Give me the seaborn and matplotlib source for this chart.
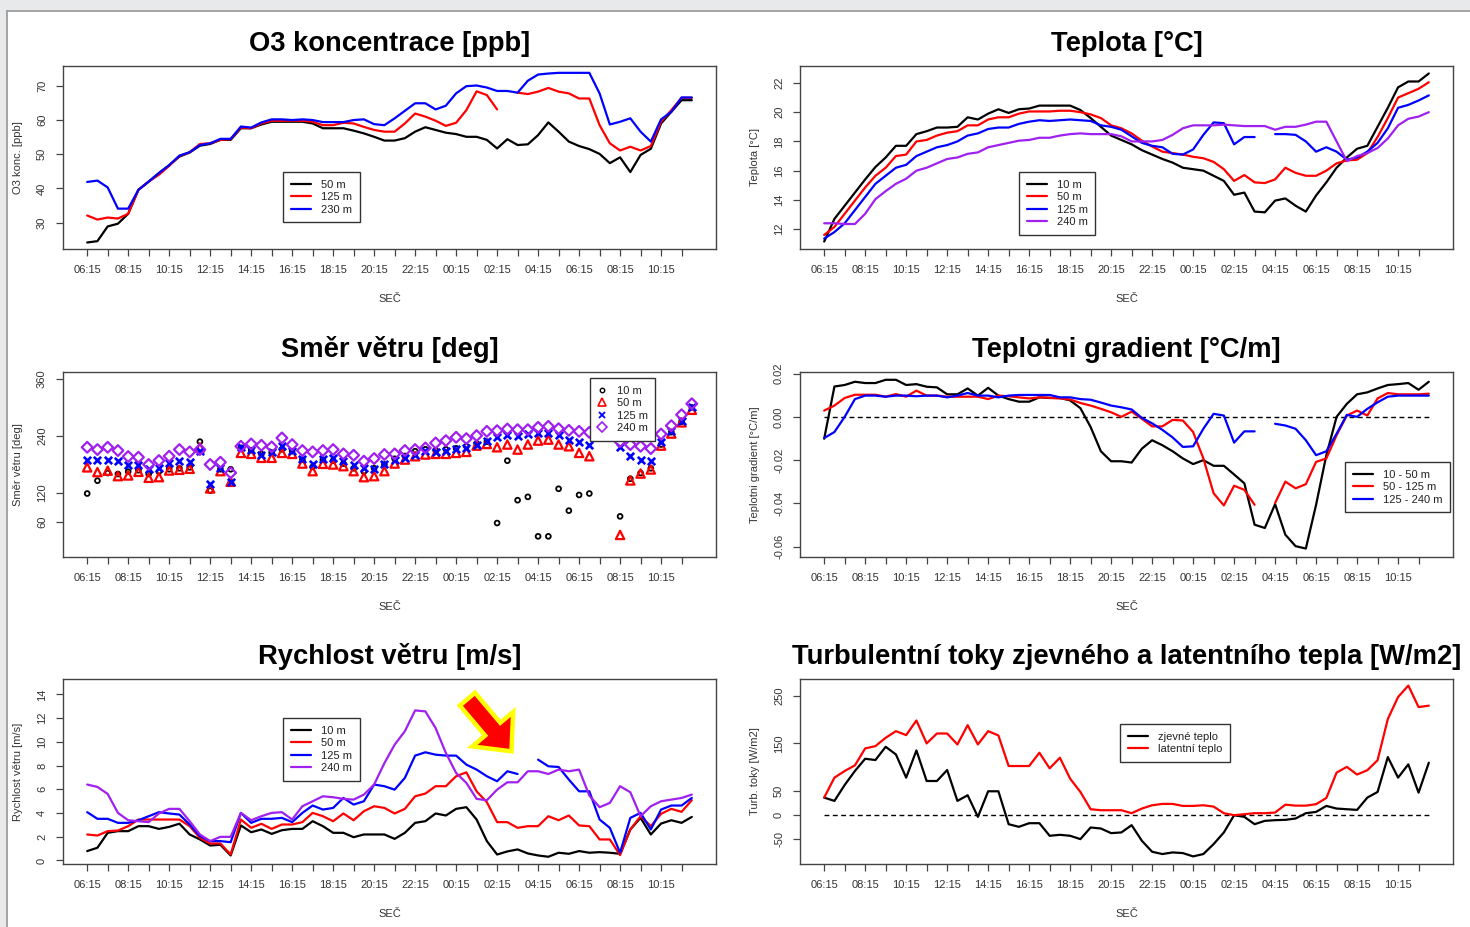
import numpy as np
import pandas as pd
import matplotlib
matplotlib.use("Agg")
import matplotlib.pyplot as plt
import seaborn as sns
from matplotlib.lines import Line2D
from matplotlib.patches import Rectangle

nan = np.nan

# ---------------- data (half-hour steps starting 06:15) ----------------
step = np.arange(60)
tick_labels = ["06:15", "08:15", "10:15", "12:15", "14:15", "16:15", "18:15", "20:15",
               "22:15", "00:15", "02:15", "04:15", "06:15", "08:15", "10:15"]

# O3 concentration [ppb]
o3_50 = [24.2, 24.6, 28.9, 29.7, 32.6, 39.6, 42.0, 44.5, 46.8, 49.3, 50.5, 52.5, 53.0, 54.2, 54.2,
         57.6, 57.6, 58.7, 59.5, 59.5, 59.5, 59.5, 59.0, 57.6, 57.6, 57.6, 56.9, 56.1, 55.1, 54.0,
         54.0, 54.7, 56.6, 57.9, 57.1, 56.3, 55.9, 55.1, 55.1, 54.2, 51.7, 54.4, 52.7, 52.9, 55.6,
         59.3, 56.6, 53.7, 52.4, 51.5, 50.1, 47.4, 49.1, 44.8, 49.8, 51.6, 59.0, 62.4, 65.8, 65.8]
o3_125 = [32.1, 30.9, 31.5, 31.2, 32.6, 39.6, 42.0, 44.0, 46.6, 49.5, 50.6, 53.0, 53.2, 54.2, 54.4,
          57.8, 57.6, 59.0, 59.8, 59.8, 59.8, 59.8, 59.5, 58.5, 58.5, 59.2, 59.0, 58.0, 57.1, 56.6,
          56.6, 59.0, 61.9, 61.0, 59.8, 58.3, 59.2, 62.9, 68.4, 67.3, 63.1, nan, 68.0, 67.6, 68.3,
          69.4, 68.3, 67.8, 66.3, 66.3, 58.5, 53.2, 51.1, 52.2, 51.1, 52.4, 59.5, 62.9, 66.5, 66.5]
o3_230 = [41.9, 42.3, 40.3, 34.1, 34.1, 39.6, 42.0, 44.5, 46.8, 49.6, 50.6, 52.7, 53.2, 54.5, 54.5,
          58.1, 57.8, 59.3, 60.2, 60.2, 60.0, 60.2, 60.0, 59.4, 59.4, 59.4, 60.0, 60.2, 58.8, 58.5,
          60.5, 62.7, 64.9, 64.9, 63.1, 64.2, 67.8, 69.9, 70.1, 69.5, 68.5, 68.5, 68.0, 71.5, 73.3,
          73.6, 73.8, 73.8, 73.8, 73.8, 67.8, 58.7, 59.5, 60.5, 56.6, 53.7, 60.2, 62.4, 66.6, 66.6]

# Temperature [°C]
t_10 = [11.15, 12.7, 13.6, 14.5, 15.4, 16.25, 16.9, 17.7, 17.7, 18.5, 18.7, 18.95, 18.95, 19.0, 19.65,
        19.5, 19.9, 20.2, 19.95, 20.2, 20.25, 20.45, 20.45, 20.45, 20.45, 20.15, 19.6, 19.0, 18.4, 18.1,
        17.8, 17.4, 17.1, 16.8, 16.55, 16.2, 16.1, 16.0, 15.65, 15.3, 14.35, 14.5, 13.2, 13.15, 13.95,
        14.1, 13.6, 13.2, 14.3, 15.2, 16.2, 16.9, 17.5, 17.7, 19.0, 20.3, 21.7, 22.1, 22.1, 22.65]
t_50 = [11.6, 12.15, 13.05, 13.95, 14.85, 15.65, 16.2, 17.0, 17.1, 18.0, 18.1, 18.4, 18.6, 18.7, 19.1,
        19.1, 19.5, 19.65, 19.65, 19.9, 20.05, 20.05, 20.05, 20.1, 20.1, 20.0, 19.85, 19.6, 19.1, 18.9,
        18.55, 18.05, 17.65, 17.3, 17.2, 17.1, 16.95, 16.85, 16.6, 16.1, 15.3, 15.7, 15.2, 15.15, 15.4,
        16.2, 15.85, 15.65, 15.65, 16.0, 16.5, 16.7, 16.75, 17.2, 18.3, 19.6, 21.0, 21.3, 21.6, 22.05]
t_125 = [11.35, 11.8, 12.4, 13.3, 14.2, 15.1, 15.65, 16.2, 16.4, 17.0, 17.3, 17.6, 17.75, 18.0, 18.4,
         18.55, 18.85, 18.95, 18.95, 19.2, 19.35, 19.45, 19.4, 19.45, 19.5, 19.45, 19.4, 19.1, 19.0, 18.8,
         18.35, 17.9, 17.7, 17.6, 17.15, 17.1, 17.45, 18.45, 19.3, 19.25, 17.8, 18.3, 18.3, nan, 18.5,
         18.5, 18.45, 18.0, 17.3, 17.6, 17.3, 16.75, 16.9, 17.3, 17.9, 18.9, 20.3, 20.5, 20.8, 21.15]
t_240 = [12.4, 12.4, 12.35, 12.35, 13.05, 14.05, 14.6, 15.1, 15.45, 16.0, 16.2, 16.5, 16.8, 16.9, 17.15,
         17.25, 17.6, 17.75, 17.9, 18.05, 18.1, 18.25, 18.25, 18.4, 18.5, 18.55, 18.5, 18.5, 18.5, 18.35,
         18.0, 18.0, 18.0, 18.1, 18.45, 18.9, 19.1, 19.1, 19.1, 19.15, 19.1, 19.05, 19.05, 19.05, 18.8,
         19.0, 19.0, 19.15, 19.35, 19.35, 18.0, 16.65, 17.0, 17.2, 17.55, 18.2, 19.1, 19.55, 19.7, 20.0]

# Wind direction [deg]
wd_10 = [119, 146, 162, 160, 165, 168, 160, 165, 170, 172, 174, 228, 125, 170, 170, 215, 210, 202, 205, 212,
         208, 190, 175, 190, 188, 182, 172, 165, 172, 180, 192, 198, 208, 212, 210, 212, 214, 218, 224, 228,
         57, 188, 105, 112, 29, 29, 129, 83, 116, 119, nan, nan, 71, 150, 162, 172, 222, 248, 270, 300]
wd_50 = [174, 164, 167, 155.5, 157, 164.6, 152, 153.4, 167.4, 168.8, 171, 216, 129.7, 166, 143.7,
         204.4, 202.3, 194, 194, 204.4, 202.3, 182, 166, 181.4, 180, 176.5, 166, 153.4, 155.5, 166,
         182, 190.4, 197.4, 201, 202.3, 202.3, 204.4, 206.5, 219.7, 223.2, 216.2, 222, 211.4, 222, 230.2,
         232.3, 222, 218.3, 204.4, 197.4, nan, nan, 32, 146.5, 161, 169.5, 219.7, 245, 268.6, 295]
wd_125 = [190.4, 190.4, 190.4, 188, 177.9, 180, 169.5, 173, 183.4, 187, 184.8, 207.9, 138, 173, 143,
          217, 211.4, 199.5, 206.5, 219.7, 209.3, 191.8, 181.4, 191.8, 194, 187, 177.9, 173, 169.5, 182,
          190.4, 194, 201, 209.3, 205.8, 207.9, 212.8, 214.8, 221.8, 228.8, 237.9, 242.8, 240.7, 244, 246.3,
          246.3, 242.8, 232.3, 227.4, 221.8, nan, nan, 216.2, 197.4, 189, 187, 227.4, 249.7, 272, 300]
wd_240 = [216.2, 211.4, 216.2, 209.3, 196.7, 195.3, 180, 188.3, 197.4, 211.4, 206.5, 211.4, 180, 184.8, 162.5,
          218.3, 223.2, 220.4, 217, 235.8, 221.8, 209.3, 206.5, 209.3, 211.4, 202.3, 199.5, 187, 192.5, 201,
          202.3, 209.3, 211.4, 214.8, 225.3, 230.2, 237.2, 234.4, 240.7, 249.7, 251.1, 254.6, 253.2, 253.2, 258.1,
          260.2, 255.3, 251.8, 249.7, 247.6, nan, nan, 228, 221.8, 218.3, 213.5, 244, 261.6, 284.6, 307.7]

# Temperature gradient [°C/m]
gr_10_50 = [-0.0101, 0.014, 0.0147, 0.0162, 0.0156, 0.0156, 0.0171, 0.0171, 0.0147, 0.0151,
            0.0139, 0.0136, 0.0104, 0.0104, 0.0131, 0.0098, 0.0134, 0.0098, 0.0082, 0.007,
            0.007, 0.009, 0.0087, 0.0087, 0.0076, 0.004, -0.0047, -0.0159, -0.0205, -0.0205,
            -0.0211, -0.0147, -0.0108, -0.0131, -0.0159, -0.0192, -0.0218, -0.02, -0.0226, -0.0226,
            -0.0266, -0.0307, -0.0498, -0.0513, -0.0403, -0.0544, -0.0597, -0.0608, -0.0406, -0.0177,
            0.0, 0.006, 0.0104, 0.0113, 0.0131, 0.0147, 0.0151, 0.0156, 0.0125, 0.0162]
gr_50_125 = [0.0029, 0.0052, 0.0087, 0.0102, 0.0102, 0.0102, 0.0093, 0.0105, 0.0093, 0.0121,
             0.0098, 0.0098, 0.0093, 0.0093, 0.0093, 0.0093, 0.0082, 0.0098, 0.0095, 0.009,
             0.0085, 0.009, 0.0088, 0.0085, 0.008, 0.0064, 0.0052, 0.0037, 0.0021, 0.0,
             0.0024, -0.0009, -0.0044, -0.0044, -0.0014, -0.0017, -0.007, -0.0192, -0.0353, -0.0409,
             -0.0318, -0.0337, -0.0406, nan, -0.0398, -0.0299, -0.033, -0.0311, -0.0208, -0.0192,
             -0.0085, 0.0006, 0.0029, 0.0006, 0.0085, 0.011, 0.0104, 0.0104, 0.0104, 0.0107]
gr_125_240 = [-0.0098, -0.007, 0.0, 0.0082, 0.0098, 0.0098, 0.0093, 0.0098, 0.0098, 0.0095,
              0.0098, 0.0098, 0.009, 0.0098, 0.011, 0.0098, 0.0098, 0.009, 0.0098, 0.0101,
              0.0101, 0.0101, 0.0101, 0.009, 0.009, 0.0082, 0.0079, 0.0066, 0.0052, 0.0044,
              0.0034, -0.0005, -0.003, -0.006, -0.0095, -0.0139, -0.0136, -0.0055, 0.0014, 0.0006,
              -0.0119, -0.0067, -0.0067, nan, -0.0032, -0.004, -0.0055, -0.0108, -0.0177, -0.0159,
              -0.0078, 0.0009, 0.0, 0.0037, 0.0067, 0.0093, 0.0098, 0.0098, 0.0098, 0.0098]

# Wind speed [m/s]
ws_10 = [0.79, 1.07, 2.33, 2.47, 2.47, 2.89, 2.89, 2.66, 2.83, 3.1, 2.19, 1.77, 1.26, 1.32, 0.42,
         2.95, 2.38, 2.61, 2.24, 2.55, 2.66, 2.66, 3.31, 2.89, 2.33, 2.33, 1.96, 2.19, 2.19, 2.19,
         1.82, 2.33, 3.17, 3.31, 3.96, 3.79, 4.35, 4.49, 3.45, 1.63, 0.5, 0.76, 0.93, 0.59, 0.42,
         0.31, 0.65, 0.56, 0.79, 0.65, 0.7, 0.65, 0.56, 2.61, 3.59, 2.19, 3.11, 3.39, 3.17, 3.67]
ws_50 = [2.19, 2.1, 2.47, 2.52, 2.89, 3.45, 3.45, 3.45, 3.45, 3.45, 2.89, 1.91, 1.43, 1.43, 0.5,
         3.45, 2.75, 3.09, 2.66, 3.03, 3.03, 3.23, 4.01, 3.73, 3.31, 3.96, 3.39, 4.15, 4.57, 4.43,
         3.96, 4.35, 5.41, 5.64, 6.26, 6.26, 7.1, 7.43, 5.83, 4.91, 3.23, 3.23, 2.75, 2.89, 2.89,
         3.73, 3.39, 3.79, 2.95, 2.89, 1.77, 1.77, 0.45, 2.61, 3.73, 2.89, 3.93, 4.35, 4.1, 5.08]
ws_125 = [4.07, 3.51, 3.51, 3.17, 3.17, 3.39, 3.73, 4.07, 3.96, 3.87, 3.03, 2.05, 1.63, 1.63, 1.54,
          4.01, 3.17, 3.51, 3.51, 3.59, 3.23, 4.01, 4.63, 4.29, 4.43, 5.27, 4.71, 4.99, 6.4, 6.26,
          5.97, 6.96, 8.84, 9.12, 8.92, 8.84, 8.84, 8.08, 7.66, 7.1, 6.68, 7.52, 7.29, nan, 8.5,
          7.94, 7.88, 6.82, 5.83, 5.83, 3.45, 2.75, 0.65, 3.59, 4.01, 2.61, 4.29, 4.63, 4.63, 5.27]
ws_240 = [6.4, 6.2, 5.61, 4.01, 3.39, 3.31, 3.23, 3.96, 4.35, 4.35, 3.31, 2.19, 1.63, 1.99, 1.99,
          4.01, 3.39, 3.73, 4.01, 4.07, 3.45, 4.57, 4.99, 5.41, 5.33, 5.19, 5.13, 5.55, 6.4, 8.2,
          9.76, 10.9, 12.65, 12.57, 11.16, 9.06, 7.38, 6.54, 5.19, 5.08, 5.97, 6.59, 6.59, 7.52, 7.52,
          7.29, 7.66, 7.52, 7.66, 5.47, 4.49, 4.85, 6.26, 5.75, 3.73, 4.57, 4.99, 5.13, 5.27, 5.55]

# Turbulent heat fluxes [W/m2]
flux_sensible = [36.8, 29.9, 63.2, 92.4, 118, 115.3, 143, 127, 78.5, 135.4, 71.5, 71.5, 94.4, 29.9, 41.7,
                 -3.5, 50, 50, -18.8, -24.3, -16.7, -16.7, -43, -41, -43, -50, -25.7, -27.8, -37.5, -36,
                 -20.8, -53.5, -76.4, -81.2, -77.8, -79.2, -86.1, -81.2, -60.4, -36.1, 0, -3.5, -18.8, -11.8, -10.4,
                 -9.7, -6.9, 4.2, 6.9, 19.4, 13.9, 12.5, 11.1, 36.8, 48.6, 121.5, 78.5, 106.3, 47.2, 109.7]
flux_latent = [36.8, 78.5, 92.4, 104.2, 139.6, 144.4, 161.8, 175.7, 167.4, 198, 150, 170.8, 170.8, 147.9, 188.2,
               147.9, 175.7, 166.7, 102.8, 102.8, 102.8, 130.6, 97.9, 120.1, 76.4, 48.6, 12.5, 10.4, 10.4, 10.4,
               4.2, 13.9, 20.8, 23.6, 23.6, 19.4, 19.4, 20.8, 18, 4.2, 0, 2.1, 4.2, 4.2, 5.6,
               22, 20, 20, 23, 36, 89, 101, 85, 94, 115, 201, 247, 271, 226, 229]

RED, BLUE, PURPLE, BLACK = "#ff0000", "#0000ff", "#a020f0", "#000000"

# ---------------- styling ----------------
sns.set_theme(style="white")
plt.rcParams["font.family"] = ["Liberation Sans", "DejaVu Sans"]
plt.rcParams["axes.unicode_minus"] = False

fig = plt.figure(figsize=(14.7, 9.27), dpi=100)
fig.patch.set_facecolor("white")
W, H = 1470.0, 927.0
# screenshot frame (top/left grey bands)
fig.patches.append(Rectangle((0, 1 - 10 / H), 1, 10 / H, transform=fig.transFigure, fc="#e8e9eb", ec="none"))
fig.patches.append(Rectangle((0, 0), 7 / W, 1, transform=fig.transFigure, fc="#e8e9eb", ec="none"))
fig.lines.append(Line2D([7.5 / W, 1], [1 - 10.5 / H] * 2, transform=fig.transFigure, color="#9d9d9d", lw=1.3))
fig.lines.append(Line2D([7.5 / W] * 2, [0, 1 - 10.5 / H], transform=fig.transFigure, color="#9d9d9d", lw=1.3))


def axes_at(x0, y0, x1, y1):
    return fig.add_axes([x0 / W, 1 - y1 / H, (x1 - x0) / W, (y1 - y0) / H])


ax_o3 = axes_at(63, 66, 716, 249)
ax_t = axes_at(800, 66, 1453, 249)
ax_wd = axes_at(63, 372, 716, 557)
ax_gr = axes_at(800, 372, 1453, 557)
ax_ws = axes_at(63, 679, 716, 864)
ax_fl = axes_at(800, 679, 1453, 864)


def draw_lines(ax, series, colors, lw=1.6):
    for y, c in zip(series, colors):
        y = np.asarray(y, float)
        ok = ~np.isnan(y)
        seg = np.cumsum(~ok)
        df = pd.DataFrame({"x": step, "y": y, "seg": seg})[ok]
        sns.lineplot(data=df, x="x", y="y", units="seg", estimator=None, color=c,
                     lw=lw, ax=ax, legend=False)


def draw_points(ax, y, color, marker, size, lw):
    df = pd.DataFrame({"x": step, "y": np.asarray(y, float)}).dropna()
    sns.scatterplot(data=df, x="x", y="y", color=color, marker=marker, s=size,
                    linewidth=lw, ax=ax, legend=False)
    coll = ax.collections[-1]
    if marker != "x":
        coll.set_facecolor("none")
    coll.set_edgecolor(color)


def style_axes(ax, title, ylabel, ylim, yticks, yticklabels):
    ax.set_xlim(-2.36, 61.36)
    ax.set_ylim(*ylim)
    ax.set_xticks(step[::2])
    ax.set_xticklabels([tick_labels[k // 4] if k % 4 == 0 else "" for k in step[::2]])
    ax.set_yticks(yticks)
    ax.set_yticklabels(yticklabels, rotation=90, va="center")
    ax.tick_params(axis="both", direction="out", length=5, width=0.9, color="#444",
                   labelsize=8, labelcolor="#333", pad=6.5, bottom=True, left=True)
    for s in ax.spines.values():
        s.set_color("#444")
        s.set_linewidth(1.0)
    ax.set_title(title, fontsize=19.7, fontweight="bold", pad=11, color="black")
    ax.set_xlabel("SEČ", fontsize=8, color="#333", labelpad=14)
    ax.set_ylabel(ylabel, fontsize=8, color="#333", labelpad=10)
    ax.grid(False)


def add_legend(ax, handles, labels, x, y, hl=1.8):
    leg = ax.legend(handles, labels, loc="upper left", bbox_to_anchor=(x, y), frameon=True,
                    fancybox=False, framealpha=1, edgecolor="#333", fontsize=8,
                    handlelength=hl, handletextpad=0.9, borderpad=0.7, labelspacing=0.22,
                    borderaxespad=0)
    leg.get_frame().set_linewidth(1.0)
    for t in leg.get_texts():
        t.set_color("#222")
    return leg


def line_handles(colors):
    return [Line2D([], [], color=c, lw=1.6) for c in colors]


# ---- O3 ----
draw_lines(ax_o3, [o3_50, o3_125, o3_230], [BLACK, RED, BLUE])
style_axes(ax_o3, "O3 koncentrace [ppb]", "O3 konc. [ppb]", (22.3, 75.8),
           [30, 40, 50, 60, 70], ["30", "40", "50", "60", "70"])
add_legend(ax_o3, line_handles([BLACK, RED, BLUE]), ["50 m", "125 m", "230 m"], 0.337, 0.421)

# ---- Temperature ----
draw_lines(ax_t, [t_10, t_50, t_125, t_240], [BLACK, RED, BLUE, PURPLE])
style_axes(ax_t, "Teplota [°C]", "Teplota [°C]", (10.64, 23.16),
           [12, 14, 16, 18, 20, 22], ["12", "14", "16", "18", "20", "22"])
add_legend(ax_t, line_handles([BLACK, RED, BLUE, PURPLE]), ["10 m", "50 m", "125 m", "240 m"], 0.335, 0.421)

# ---- Wind direction ----
draw_points(ax_wd, wd_10, BLACK, "o", 12, 1.3)
draw_points(ax_wd, wd_50, RED, "^", 36, 1.6)
draw_points(ax_wd, wd_125, BLUE, "x", 28, 1.9)
draw_points(ax_wd, wd_240, PURPLE, "D", 30, 1.6)
style_axes(ax_wd, "Směr větru [deg]", "Směr větru [deg]", (-14.4, 374.4),
           [60, 120, 240, 360], ["60", "120", "240", "360"])
wd_handles = [
    Line2D([], [], ls="none", marker="o", mfc="none", mec=BLACK, ms=3.2, mew=1.0),
    Line2D([], [], ls="none", marker="^", mfc="none", mec=RED, ms=5.5, mew=1.2),
    Line2D([], [], ls="none", marker="x", color=BLUE, ms=5, mew=1.3),
    Line2D([], [], ls="none", marker="D", mfc="none", mec=PURPLE, ms=5, mew=1.2),
]
add_legend(ax_wd, wd_handles, ["10 m", "50 m", "125 m", "240 m"], 0.807, 0.968, hl=0.8)

# ---- Temperature gradient ----
ax_gr.hlines(0, step[0], step[-1], colors="black", linestyles=(0, (3.5, 2.5)), lw=1.0)
draw_lines(ax_gr, [gr_10_50, gr_50_125, gr_125_240], [BLACK, RED, BLUE])
style_axes(ax_gr, "Teplotni gradient [°C/m]", "Teplotni gradient [°C/m]", (-0.0647, 0.0207),
           [-0.06, -0.04, -0.02, 0.0, 0.02], ["-0.06", "-0.04", "-0.02", "0.00", "0.02"])
add_legend(ax_gr, line_handles([BLACK, RED, BLUE]), ["10 - 50 m", "50 - 125 m", "125 - 240 m"], 0.835, 0.514)

# ---- Wind speed ----
draw_lines(ax_ws, [ws_10, ws_50, ws_125, ws_240], [BLACK, RED, BLUE, PURPLE])
style_axes(ax_ws, "Rychlost větru [m/s]", "Rychlost větru [m/s]", (-0.3, 15.3),
           [0, 2, 4, 6, 8, 10, 12, 14], ["0", "2", "4", "6", "8", "10", "12", "14"])
add_legend(ax_ws, line_handles([BLACK, RED, BLUE, PURPLE]), ["10 m", "50 m", "125 m", "240 m"], 0.337, 0.789)
ax_ws.annotate("", xy=(41.4, 9.2), xytext=(37.1, 13.6),
               arrowprops=dict(arrowstyle="simple,head_length=0.95,head_width=1.75,tail_width=0.65",
                               fc="red", ec="yellow", lw=3.2, mutation_scale=22,
                               shrinkA=0, shrinkB=0, joinstyle="miter"))

# ---- Turbulent fluxes ----
ax_fl.hlines(0, step[0], step[-1], colors="black", linestyles=(0, (3.5, 2.5)), lw=1.0)
draw_lines(ax_fl, [flux_sensible, flux_latent], [BLACK, RED])
style_axes(ax_fl, "Turbulentní toky zjevného a latentního tepla [W/m2]", "Turb. toky [W/m2]",
           (-102, 284.7), [-50, 0, 50, 150, 250], ["-50", "0", "50", "150", "250"])
add_legend(ax_fl, line_handles([BLACK, RED]), ["zjevné teplo", "latentní teplo"], 0.49, 0.757)

fig.savefig("out.png", dpi=100, facecolor=fig.get_facecolor())
